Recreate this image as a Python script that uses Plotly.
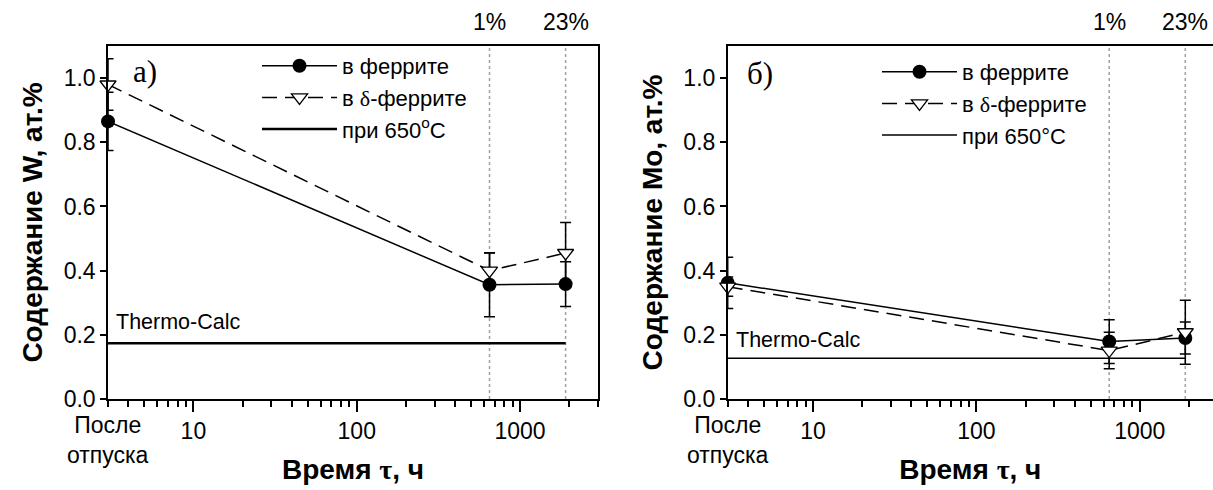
import numpy as np
import plotly.graph_objects as go

# ---------------- data ----------------
times = [3, 650, 1900]            # 3 = "После отпуска" (after tempering)
phase_labels = ["1%", "23%"]       # delta-ferrite fraction markers at 650 h and 1900 h

W_ferrite = [0.865, 0.356, 0.358]
W_ferrite_err = [0.091, 0.100, 0.070]
W_delta = [0.980, 0.400, 0.455]
W_delta_err = [0.080, 0.055, 0.095]
W_tc = 0.174

Mo_ferrite = [0.362, 0.179, 0.190]
Mo_ferrite_err = [0.080, 0.068, 0.050]
Mo_delta = [0.350, 0.151, 0.208]
Mo_delta_err = [0.030, 0.057, 0.100]
Mo_tc = 0.127

FONT = "Liberation Sans"
SERIF = "Liberation Serif"
W, H = 1213, 490
ML, MR, MT, MB = 0, 0, 46, 91
PH = H - MT - MB
TICK_FS = 23
TITLE_FS = 28
LEG_FS = 22

fig = go.Figure()

def add_panel(xa, ya, ferr, ferr_e, delt, delt_e, tc, tc_width, tc_name, legend):
    fig.add_trace(go.Scatter(
        x=times, y=ferr, xaxis=xa, yaxis=ya, mode="lines+markers", cliponaxis=False,
        name="в феррите", legend=legend, legendgroup=legend + "a",
        line=dict(color="black", width=1.5),
        marker=dict(symbol="circle", size=14, color="black"),
        error_y=dict(type="data", array=ferr_e, color="black", thickness=1.5, width=5.5),
    ))
    fig.add_trace(go.Scatter(
        x=times, y=delt, xaxis=xa, yaxis=ya, mode="lines+markers", cliponaxis=False,
        name="в <span style='font-family:Liberation Serif'>δ</span>-феррите",
        legend=legend, legendgroup=legend + "b",
        line=dict(color="black", width=1.5, dash="15px,8px"),
        marker=dict(symbol="triangle-down", size=14, color="white",
                    line=dict(color="black", width=1.3)),
        error_y=dict(type="data", array=delt_e, color="black", thickness=1.5, width=5.5),
    ))
    fig.add_trace(go.Scatter(
        x=[times[0], times[-1]], y=[tc, tc], xaxis=xa, yaxis=ya, mode="lines",
        name=tc_name, legend=legend, legendgroup=legend + "c",
        line=dict(color="black", width=tc_width),
    ))

add_panel("x", "y", W_ferrite, W_ferrite_err, W_delta, W_delta_err, W_tc, 2.5,
          "при 650<sup>o</sup>C", "legend")
add_panel("x2", "y2", Mo_ferrite, Mo_ferrite_err, Mo_delta, Mo_delta_err, Mo_tc, 1.5,
          "при 650°C", "legend2")

plot_w = W - ML - MR
def px2paper(px):
    return (px - ML) / plot_w

def py2paper(py):
    return 1 - (py - MT) / PH

minor_vals = [3, 4, 5, 6, 7, 8, 9, 20, 30, 40, 50, 60, 70, 80, 90,
              200, 300, 400, 500, 600, 700, 800, 900, 2000, 3000]

X_LO = np.log10(3) - 1e-4   # tiny pad so points sitting on the left edge are drawn

def xaxis_cfg(domain, rng):
    return dict(
        type="log", domain=domain, range=rng, showline=True, linecolor="black",
        linewidth=1.5, mirror=True, ticks="outside", ticklen=11, tickwidth=2,
        tickcolor="black", tickvals=[10, 100, 1000], ticktext=["10", "100", "1000"],
        tickfont=dict(family=FONT, size=TICK_FS, color="black"), showgrid=False,
        zeroline=False,
        minor=dict(tickmode="array", tickvals=minor_vals, ticklen=6, tickwidth=1.5,
                   tickcolor="black", ticks="outside", showgrid=False),
        title=dict(text="<b>Время <span style='font-family:Liberation Serif'>τ</span>, ч</b>",
                   font=dict(family=FONT, size=TITLE_FS, color="black"), standoff=16),
        automargin=False,
    )

def yaxis_cfg(anchor, mirror, title):
    return dict(
        domain=[0, 1], range=[0, 1.1], anchor=anchor, showline=True, linecolor="black",
        linewidth=1.5, mirror=mirror, ticks="outside", ticklen=6, tickwidth=1.5,
        tickcolor="black", tickvals=[0, 0.2, 0.4, 0.6, 0.8, 1.0], tickformat=".1f",
        tickfont=dict(family=FONT, size=TICK_FS, color="black"), showgrid=False,
        zeroline=False,
        title=dict(text="<b>" + title + "</b>", font=dict(family=FONT, size=TITLE_FS, color="black"),
                   standoff=13),
        automargin=False,
    )

left_dom = [px2paper(108), px2paper(598)]
right_dom = [px2paper(727.7), 1.0]
right_max = np.log10(3) + (W - 727.7) / (490 / 3.0)

ITEMW = 75
fig.update_layout(
    width=W, height=H, autosize=False,
    margin=dict(l=ML, r=MR, t=MT, b=MB),
    paper_bgcolor="white", plot_bgcolor="white",
    font=dict(family=FONT, color="black"),
    xaxis=xaxis_cfg(left_dom, [X_LO, np.log10(3000)]) | dict(anchor="y"),
    xaxis2=xaxis_cfg(right_dom, [X_LO, right_max]) | dict(anchor="y2"),
    yaxis=yaxis_cfg("x", True, "Содержание W, ат.%"),
    yaxis2=yaxis_cfg("x2", False, "Содержание Mo, ат.%"),
    legend=dict(x=px2paper(302 - (ITEMW - 30)), y=py2paper(45), xanchor="left", yanchor="top",
                font=dict(family=FONT, size=LEG_FS, color="black"), bgcolor="rgba(0,0,0,0)",
                tracegroupgap=0, itemwidth=ITEMW),
    legend2=dict(x=px2paper(922 - (ITEMW - 30)), y=py2paper(51), xanchor="left", yanchor="top",
                 font=dict(family=FONT, size=LEG_FS, color="black"), bgcolor="rgba(0,0,0,0)",
                 tracegroupgap=0, itemwidth=ITEMW),
    showlegend=True,
)

shapes = []
annotations = []
for xa, ya in (("x", "y"), ("x2", "y2")):
    for t, lab in zip(times[1:], phase_labels):
        shapes.append(dict(type="line", xref=xa, yref=ya + " domain", x0=t, x1=t, y0=0, y1=1,
                           line=dict(color="#a0a0a0", width=1.5, dash="dot"), layer="below"))
        annotations.append(dict(xref=xa, yref=ya + " domain", x=np.log10(t), y=py2paper(22),
                                yanchor="middle", text=lab, showarrow=False,
                                font=dict(family=FONT, size=TICK_FS, color="black")))
    annotations.append(dict(xref=xa, yref="paper", x=np.log10(times[0]), y=py2paper(440),
                            text="После<br>отпуска", showarrow=False, align="center",
                            yanchor="middle", font=dict(family=FONT, size=TICK_FS, color="black")))

annotations.append(dict(xref="x", yref="y", x=np.log10(times[0]), y=0.24, xanchor="left",
                        yanchor="middle", xshift=6, text="Thermo-Calc", showarrow=False,
                        font=dict(family=FONT, size=21.5, color="black")))
annotations.append(dict(xref="x2", yref="y2", x=np.log10(times[0]), y=0.184, xanchor="left",
                        yanchor="middle", xshift=6, text="Thermo-Calc", showarrow=False,
                        font=dict(family=FONT, size=21.5, color="black")))
annotations.append(dict(xref="paper", yref="paper", x=px2paper(145), y=py2paper(72),
                        xanchor="center", yanchor="middle",
                        text="а)", showarrow=False, font=dict(family=SERIF, size=31, color="black")))
annotations.append(dict(xref="paper", yref="paper", x=px2paper(760), y=py2paper(73),
                        xanchor="center", yanchor="middle",
                        text="б)", showarrow=False, font=dict(family=SERIF, size=31, color="black")))

fig.update_layout(shapes=shapes, annotations=annotations)
fig.write_html("out.html")
